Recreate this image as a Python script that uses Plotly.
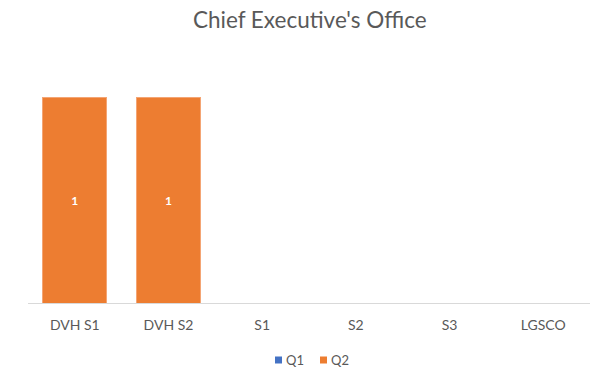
import plotly.graph_objects as go

categories = ["DVH S1", "DVH S2", "S1", "S2", "S3", "LGSCO"]
q1_values = [0, 0, 0, 0, 0, 0]
q2_values = [1, 1, 0, 0, 0, 0]
series_names = ["Q1", "Q2"]
series_colors = ["#4472C4", "#ED7D31"]

W, H = 590, 369
ML, MR, MT, MB = 28, 0, 97, 66

def labels(vals):
    return [str(v) if v else "" for v in vals]

def px_to_paper(px, py):
    pw, ph = W - ML - MR, H - MT - MB
    return (px - ML) / pw, (H - MB - py) / ph

fig = go.Figure()
for name, vals, color in zip(series_names, [q1_values, q2_values], series_colors):
    fig.add_trace(go.Bar(
        x=categories, y=vals, name=name, showlegend=False,
        marker=dict(color=color, line=dict(color="#F4A574" if name == "Q2" else color, width=1)),
        text=labels(vals), textposition="inside", insidetextanchor="middle",
        texttemplate="<b>%{text}</b>",
        textfont=dict(color="white", size=12, family="Lato"),
    ))

# legend: small swatch followed by the series name
legend_x = [275, 320]
legend_y = 360
for name, color, lx in zip(series_names, series_colors, legend_x):
    x0, y0 = px_to_paper(lx, legend_y + 3.5)
    x1, y1 = px_to_paper(lx + 7, legend_y - 3.5)
    fig.add_shape(type="rect", xref="paper", yref="paper",
                  x0=x0, y0=y0, x1=x1, y1=y1,
                  fillcolor=color, line=dict(width=0))
    tx, ty = px_to_paper(lx + 9, legend_y)
    fig.add_annotation(text=name, xref="paper", yref="paper", x=tx, y=ty,
                       xanchor="left", yanchor="middle", showarrow=False,
                       font=dict(family="Lato", size=13, color="#595959"))

fig.update_layout(
    width=W, height=H,
    margin=dict(l=ML, r=MR, t=MT, b=MB),
    paper_bgcolor="white", plot_bgcolor="white",
    barmode="stack", bargap=0.32,
    title=dict(text="Chief Executive's Office", x=0.525, xanchor="center",
               y=0.945, yanchor="middle",
               font=dict(family="Lato", size=22.5, color="#595959")),
    font=dict(family="Lato", size=13, color="#595959"),
    showlegend=False,
)
fig.update_xaxes(showline=True, linecolor="#D9D9D9", linewidth=1, ticks="",
                 tickfont=dict(size=14, color="#595959"), showgrid=False,
                 ticklabelstandoff=9)
fig.update_yaxes(range=[0, 1], visible=False, showgrid=False, zeroline=False)

fig.write_html("out.html")
